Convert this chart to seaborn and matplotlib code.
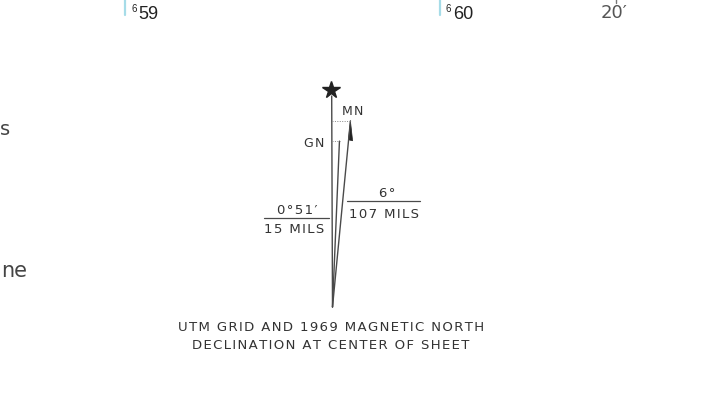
import numpy as np
import pandas as pd
import matplotlib
matplotlib.use('Agg')
import matplotlib.pyplot as plt
import seaborn as sns

# Declination diagram content (angles as drawn, not to scale)
north_labels = ['GN', 'MN']
drawn_angle_deg = [2.4, 5.5]
line_length = [166, 187]
grid_decl = ['0°51′', '15 MILS']
mag_decl = ['6°', '107 MILS']
caption = ['UTM GRID AND 1969 MAGNETIC NORTH', 'DECLINATION AT CENTER OF SHEET']
easting_sup = ['6', '6']
easting_main = ['59', '60']
easting_x = [125, 440]
minute_label = '20′'

text_col = '#333333'
line_col = '#4a4a4a'
tick_col = '#a6dce8'


def spaced(s, k=1):
    # fake letter spacing with hair spaces
    hs = '\u200a' * k
    return hs.join(list(s))


sns.set_theme(style='white')
plt.rcParams['font.family'] = ['DejaVu Sans']

fig = plt.figure(figsize=(7.18, 4.14), dpi=100)
ax = fig.add_axes([0, 0, 1, 1])
ax.set_xlim(0, 718)
ax.set_ylim(414, 0)
ax.axis('off')

# true north line + star
apex_x, apex_y = 332.5, 308
north = pd.DataFrame({'x': [apex_x, apex_x - 0.8], 'y': [apex_y, apex_y - 211]})
sns.lineplot(data=north, x='x', y='y', sort=False, estimator=None,
             color=line_col, lw=1.0, ax=ax)
ax.plot(apex_x - 1.5, 91, marker='*', ms=13, color='#222222', mec='#222222')

# grid north and magnetic north lines
tips = []
for lab, ang, ln in zip(north_labels, drawn_angle_deg, line_length):
    a = np.deg2rad(ang)
    tx = apex_x + ln * np.sin(a)
    ty = apex_y - ln * np.cos(a)
    tips.append((tx, ty))
    seg = pd.DataFrame({'x': [apex_x, tx], 'y': [apex_y, ty]})
    sns.lineplot(data=seg, x='x', y='y', sort=False, estimator=None,
                 color=line_col, lw=1.0, ax=ax)
    ax.plot([apex_x - 0.6, tx + 1], [ty, ty], color='#888888', lw=0.7,
            ls=(0, (1, 1.5)))

# half arrowhead on MN
mx, my = tips[1]
a = np.deg2rad(drawn_angle_deg[1])
bx = mx - 19 * np.sin(a)
by = my + 19 * np.cos(a)
ax.fill([mx, bx + 4.0, bx - 0.2], [my, by + 1, by], color='#222222', lw=0.5)

ax.text(tips[0][0] - 25, tips[0][1] + 1, spaced(north_labels[0], 1), fontsize=9,
        color=text_col, ha='center', va='center')
ax.text(mx + 2, my - 10, spaced(north_labels[1], 1), fontsize=9,
        color=text_col, ha='center', va='center')

# angle labels
ax.text(387, 194, spaced(mag_decl[0], 1), fontsize=9.5, color=text_col,
        ha='center', va='center')
ax.plot([347, 420], [202, 202], color=line_col, lw=0.9)
ax.text(384, 215, spaced(mag_decl[1], 1), fontsize=9.5, color=text_col,
        ha='center', va='center')

ax.text(297, 211, spaced(grid_decl[0], 1), fontsize=9.5, color=text_col,
        ha='center', va='center')
ax.plot([264, 329], [218.5, 218.5], color=line_col, lw=0.9)
ax.text(294, 230, spaced(grid_decl[1], 1), fontsize=9.5, color=text_col,
        ha='center', va='center')

# caption
for i, line in enumerate(caption):
    ax.text(331, 328 + 18 * i, spaced(line, 1), fontsize=9.5, color=text_col,
            ha='center', va='center')

# easting grid ticks at top
for sup, main, x in zip(easting_sup, easting_main, easting_x):
    ax.plot([x, x], [0, 16], color=tick_col, lw=1.6)
    ax.text(x + 6, 14, sup, fontsize=7, color='#222222', ha='left', va='bottom',
            family=['Liberation Sans Narrow', 'Liberation Sans', 'DejaVu Sans'])
    ax.text(x + 13, 23, main, fontsize=13, color='#222222', ha='left',
            va='bottom',
            family=['Liberation Sans Narrow', 'Liberation Sans', 'DejaVu Sans'])

ax.plot([615.5, 615.5], [0, 4], color='#777777', lw=1.0)
ax.text(614, 13, minute_label, fontsize=13, color='#555555', ha='center',
        va='center')

# text running in from the left edge
ax.text(0, 130, 's', fontsize=14, color='#444444', ha='left', va='center')
ax.text(1, 271, 'ne', fontsize=15, color='#444444', ha='left', va='center')

fig.savefig('out.png', dpi=100, facecolor='white')
